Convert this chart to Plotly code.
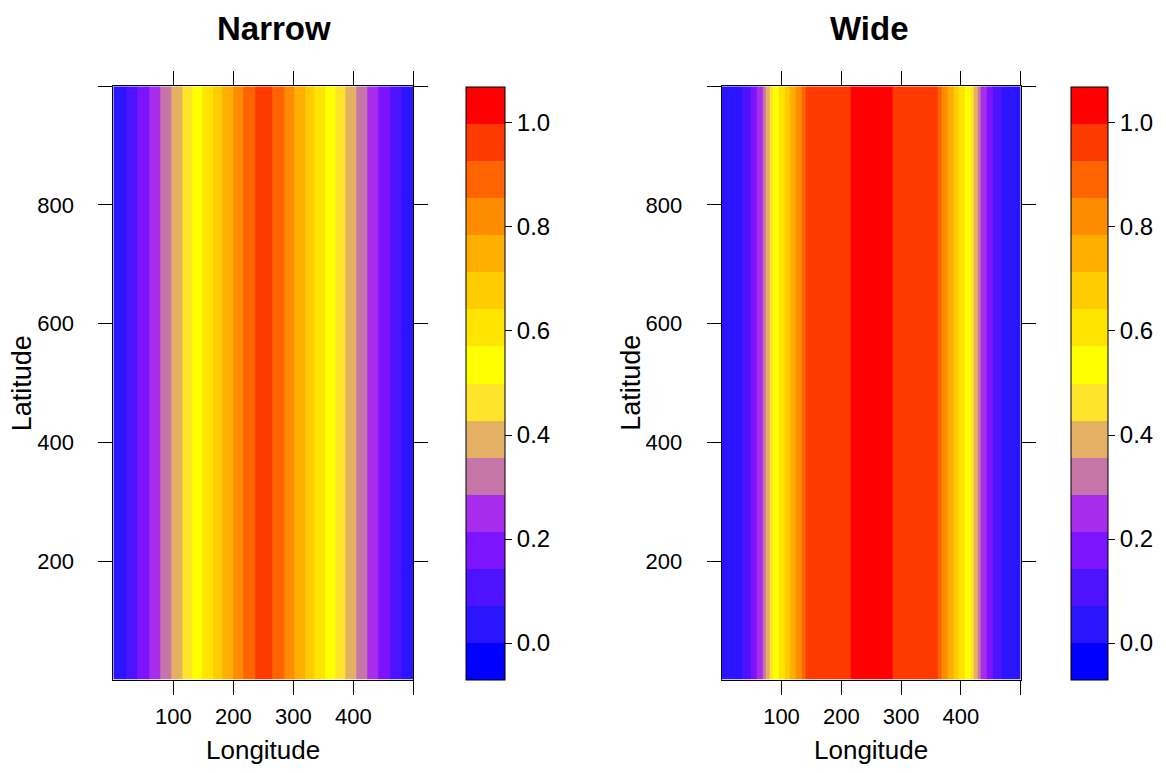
import plotly.graph_objects as go

# ---- data ----
LONGITUDE = [0, 10, 20, 30, 40, 50, 60, 70, 80, 90, 100, 110, 120, 130, 140, 150, 160, 170, 180, 190,
             200, 210, 220, 230, 240, 250, 260, 270, 280, 290, 300, 310, 320, 330, 340, 350, 360, 370,
             380, 390, 400, 410, 420, 430, 440, 450, 460, 470, 480, 490, 500]
LATITUDE = [0, 1000]

NARROW = [0.005, 0.038, 0.071, 0.107, 0.144, 0.180, 0.217, 0.255, 0.294, 0.334, 0.374, 0.415, 0.456,
          0.498, 0.539, 0.579, 0.619, 0.661, 0.707, 0.749, 0.791, 0.831, 0.870, 0.908, 0.945, 0.990,
          0.945, 0.908, 0.870, 0.831, 0.791, 0.749, 0.707, 0.661, 0.619, 0.579, 0.539, 0.498, 0.456,
          0.415, 0.374, 0.334, 0.294, 0.255, 0.217, 0.180, 0.144, 0.107, 0.071, 0.038, 0.005]

WIDE = [0.010, 0.020, 0.035, 0.058, 0.102, 0.163, 0.229, 0.312, 0.452, 0.548, 0.616, 0.689, 0.768,
        0.837, 0.930, 0.942, 0.953, 0.963, 0.972, 0.981, 0.989, 0.998, 1.000, 1.000, 1.000, 1.000,
        1.000, 1.000, 1.000, 0.998, 0.989, 0.981, 0.972, 0.963, 0.953, 0.942, 0.930, 0.837, 0.768,
        0.689, 0.616, 0.548, 0.452, 0.312, 0.229, 0.163, 0.102, 0.058, 0.035, 0.020, 0.010]

Z_MIN, Z_MAX = -0.07, 1.07
BAND_COLORS = ["#0000FF", "#2B14FF", "#4D12FF", "#7D14FF", "#A82CEB", "#C675A8", "#E3B064",
               "#FEE42A", "#FFFF00", "#FFE400", "#FFCC00", "#FFAF00", "#FF8C00", "#FF6400",
               "#FF3A00", "#FF0000"]
X_TICKS = [100, 200, 300, 400, 500]
X_TICKTEXT = ["100", "200", "300", "400", ""]
Y_TICKS = [200, 400, 600, 800, 1000]
Y_TICKTEXT = ["200", "400", "600", "800", ""]
CB_TICKS = [0.0, 0.2, 0.4, 0.6, 0.8, 1.0]
TITLES = ["Narrow", "Wide"]

FONT = "Liberation Sans, Arial, sans-serif"
W, H = 1166, 773
OFF = 8                      # page body margin of the html page
FW, FH = W - 2 * OFF, H - 2 * OFF


def px(x):
    return (x - OFF) / FW


def py(y):
    return 1 - (y - OFF) / FH


n = len(BAND_COLORS)
colorscale = []
for i, c in enumerate(BAND_COLORS):
    colorscale.append([i / n, c])
    colorscale.append([(i + 1) / n, c])

fig = go.Figure()

panels = [
    dict(z=NARROW, x0=113.3, x1=413.3, cbx=466, cbw=39, xa="x", ya="y"),
    dict(z=WIDE, x0=721.7, x1=1020.7, cbx=1071, cbw=37, xa="x2", ya="y2"),
]
y_top, y_bot = 86.3, 679.7

for p in panels:
    cb = dict(
        x=px(p["cbx"]), xanchor="left", xpad=0,
        y=(py(y_top) + py(y_bot)) / 2, yanchor="middle", ypad=0,
        len=(y_bot - y_top) / FH, lenmode="fraction",
        thickness=p["cbw"], thicknessmode="pixels",
        outlinewidth=1, outlinecolor="black",
        tickvals=CB_TICKS, tickformat=".1f",
        ticks="outside", ticklen=7, tickcolor="black",
        tickfont=dict(family=FONT, size=24, color="black"),
    )
    try:
        cbo = go.heatmap.ColorBar(cb, ticklabelstandoff=10)
    except Exception:
        cbo = go.heatmap.ColorBar(cb)
    fig.add_trace(go.Heatmap(
        x=LONGITUDE, y=LATITUDE, z=[p["z"], p["z"]],
        zmin=Z_MIN, zmax=Z_MAX, colorscale=colorscale, zsmooth="best",
        xaxis=p["xa"], yaxis=p["ya"], hoverinfo="skip",
        colorbar=cbo,
    ))

axis_common = dict(showgrid=False, zeroline=False, showline=True, linecolor="black", linewidth=1,
                   mirror="ticks", ticks="outside", ticklen=14, tickcolor="black",
                   tickfont=dict(family=FONT, size=22, color="black"))

layout = dict(width=FW, height=FH, margin=dict(l=0, r=0, t=0, b=0),
              paper_bgcolor="white", plot_bgcolor="white", showlegend=False)

for idx, p in enumerate(panels):
    sfx = "" if idx == 0 else "2"
    layout["xaxis" + sfx] = dict(axis_common, domain=[px(p["x0"]), px(p["x1"])], range=[0, 500],
                                 tickvals=X_TICKS, ticktext=X_TICKTEXT, ticklabelstandoff=3,
                                 anchor="y" + sfx)
    layout["yaxis" + sfx] = dict(axis_common, domain=[py(y_bot), py(y_top)], range=[0, 1000],
                                 tickvals=Y_TICKS, ticktext=Y_TICKTEXT, ticklabelstandoff=20,
                                 anchor="x" + sfx)

fig.update_layout(**layout)

ann = []
title_x = [274, 869]
for i, p in enumerate(panels):
    ann.append(dict(text="<b>%s</b>" % TITLES[i], x=px(title_x[i]), y=py(28), xref="paper", yref="paper",
                    showarrow=False, xanchor="center", yanchor="middle",
                    font=dict(family=FONT, size=33, color="black")))
    ann.append(dict(text="Longitude", x=px((p["x0"] + p["x1"]) / 2), y=py(750), xref="paper",
                    yref="paper", showarrow=False, xanchor="center", yanchor="middle",
                    font=dict(family=FONT, size=26, color="black")))
    ann.append(dict(text="Latitude", x=px(p["x0"] - 91), y=py((y_top + y_bot) / 2), xref="paper",
                    yref="paper", showarrow=False, xanchor="center", yanchor="middle", textangle=-90,
                    font=dict(family=FONT, size=27, color="black")))
fig.update_layout(annotations=ann)

fig.write_html("out.html")
